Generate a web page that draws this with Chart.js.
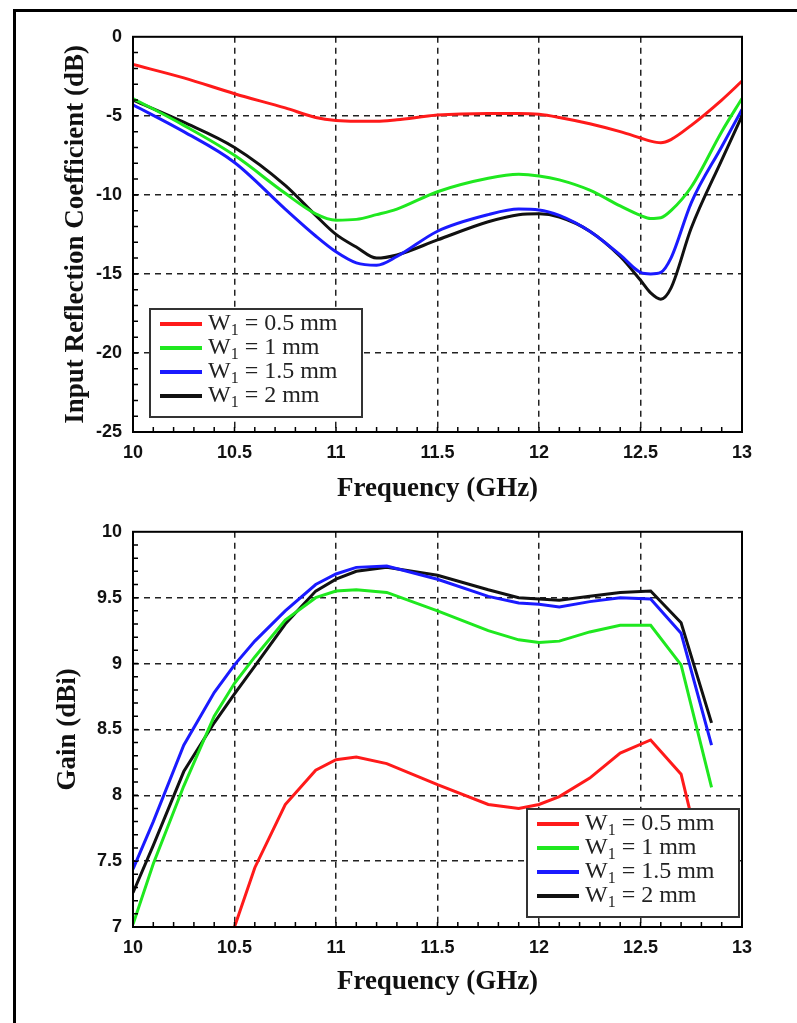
<!DOCTYPE html>
<html>
<head>
<meta charset="utf-8">
<script src="https://cdn.jsdelivr.net/npm/chart.js@4.4.0/dist/chart.umd.min.js"></script>
<style>
  body { margin: 0; background: #fff; width: 797px; height: 1023px; overflow: hidden; position: relative; }
  #frame { position: absolute; left: 13px; top: 9px; width: 900px; height: 1100px; border: 3px solid #000; }
  canvas { position: absolute; left: 0; }
</style>
</head>
<body>
<div id="frame"></div>
<canvas id="s11" width="797" height="495" style="top:15px"></canvas>
<canvas id="gain" width="797" height="510" style="top:510px"></canvas>
<script>
// legend labels (W1 values, mm)
const widths = ["0.5", "1", "1.5", "2"];
const colors = ["#ff1a1a", "#1fe81f", "#1a1aff", "#111111"];

// top chart: input reflection coefficient (dB)
const s11Freq = [10, 10.25, 10.5, 10.75, 10.9, 11, 11.1, 11.2, 11.3, 11.5, 11.75, 11.9, 12, 12.1, 12.25, 12.4, 12.5, 12.55, 12.6, 12.65, 12.75, 12.9, 13];
const s11W05 = [-1.75, -2.6, -3.6, -4.5, -5.1, -5.3, -5.35, -5.35, -5.25, -4.95, -4.85, -4.85, -4.9, -5.1, -5.5, -6.0, -6.4, -6.6, -6.7, -6.5, -5.6, -4.0, -2.8];
const s11W1 = [-3.9, -5.6, -7.5, -9.9, -11.2, -11.6, -11.55, -11.25, -10.9, -9.8, -8.95, -8.7, -8.8, -9.05, -9.7, -10.7, -11.3, -11.5, -11.45, -11.0, -9.5, -6.0, -3.9];
const s11W15 = [-4.3, -6.0, -7.95, -10.9, -12.6, -13.6, -14.3, -14.45, -13.9, -12.3, -11.25, -10.9, -10.95, -11.3, -12.3, -13.8, -14.9, -15.0, -14.9, -14.0, -10.5, -6.95, -4.6];
const s11W2 = [-4.0, -5.4, -7.0, -9.4, -11.3, -12.5, -13.3, -14.0, -13.8, -12.85, -11.7, -11.25, -11.2, -11.4, -12.3, -13.9, -15.4, -16.2, -16.6, -15.9, -12.1, -7.8, -5.0];
const s11Ticks = [0, -5, -10, -15, -20, -25];

// bottom chart: gain (dBi)
const gainFreq = [10, 10.1, 10.25, 10.4, 10.5, 10.6, 10.75, 10.9, 11, 11.1, 11.25, 11.5, 11.75, 11.9, 12, 12.1, 12.25, 12.4, 12.55, 12.7, 12.85];
const gainW05 = [null, null, null, 6.6, 7.0, 7.45, 7.93, 8.19, 8.27, 8.29, 8.24, 8.08, 7.93, 7.9, 7.93, 7.99, 8.13, 8.32, 8.42, 8.16, 7.2];
const gainW1 = [7.02, 7.48, 8.07, 8.6, 8.85, 9.05, 9.33, 9.5, 9.55, 9.56, 9.54, 9.4, 9.25, 9.18, 9.16, 9.17, 9.24, 9.29, 9.29, 8.99, 8.06];
const gainW15 = [7.44, 7.8, 8.38, 8.78, 8.99, 9.17, 9.4, 9.6, 9.68, 9.73, 9.74, 9.64, 9.51, 9.46, 9.45, 9.43, 9.47, 9.5, 9.49, 9.23, 8.38];
const gainW2 = [7.26, 7.62, 8.18, 8.55, 8.77, 8.98, 9.3, 9.55, 9.64, 9.7, 9.73, 9.67, 9.56, 9.5, 9.49, 9.48, 9.51, 9.54, 9.55, 9.31, 8.55];
const gainTicks = [10, 9.5, 9, 8.5, 8, 7.5, 7];

const freqTicks = [10, 10.5, 11, 11.5, 12, 12.5, 13];

const tickFont = { family: "Liberation Sans", weight: "bold", size: 18 };
const titleFont = { family: "Liberation Serif", weight: "bold", size: 27 };

// frame + inward minor ticks
const framePlugin = {
  id: "frame",
  afterDatasetsDraw(chart, args, opts) {
    const { ctx, chartArea: a, scales } = chart;
    ctx.save();
    ctx.strokeStyle = "#000";
    ctx.lineWidth = 1.5;
    ctx.beginPath();
    const xs = scales.x, ys = scales.y;
    const nx = Math.round((xs.max - xs.min) / opts.xMinor);
    for (let i = 1; i < nx; i++) {
      const px = xs.getPixelForValue(xs.min + i * opts.xMinor);
      ctx.moveTo(px, a.bottom);
      ctx.lineTo(px, a.bottom - 5);
    }
    const ny = Math.round((ys.max - ys.min) / opts.yMinor);
    for (let i = 1; i < ny; i++) {
      const py = ys.getPixelForValue(ys.min + i * opts.yMinor);
      ctx.moveTo(a.left, py);
      ctx.lineTo(a.left + 5, py);
    }
    ctx.stroke();
    ctx.lineWidth = 2;
    ctx.strokeRect(a.left, a.top, a.right - a.left, a.bottom - a.top);
    ctx.restore();
  }
};

// boxed legend with subscript
const legendPlugin = {
  id: "boxLegend",
  afterDraw(chart, args, opts) {
    const { ctx, chartArea: a } = chart;
    const x0 = a.left + opts.dx, y0 = a.bottom - opts.dyBottom - opts.h;
    ctx.save();
    ctx.fillStyle = "#fff";
    ctx.fillRect(x0, y0, opts.w, opts.h);
    ctx.strokeStyle = "#333";
    ctx.lineWidth = 2;
    ctx.strokeRect(x0, y0, opts.w, opts.h);
    chart.data.datasets.forEach((ds, i) => {
      const y = y0 + 15 + i * 24;
      ctx.strokeStyle = ds.borderColor;
      ctx.lineWidth = 4;
      ctx.beginPath();
      ctx.moveTo(x0 + 10, y);
      ctx.lineTo(x0 + 52, y);
      ctx.stroke();
      ctx.fillStyle = "#222";
      ctx.textBaseline = "middle";
      let tx = x0 + 58;
      ctx.font = "24px 'Liberation Serif'";
      ctx.fillText("W", tx, y);
      tx += ctx.measureText("W").width;
      ctx.font = "16px 'Liberation Serif'";
      ctx.fillText("1", tx, y + 7);
      tx += ctx.measureText("1").width;
      ctx.font = "24px 'Liberation Serif'";
      ctx.fillText(" = " + widths[i] + " mm", tx, y);
    });
    ctx.restore();
  }
};

function gridColor(lo, hi) {
  return c => (c.tick && (c.tick.value === lo || c.tick.value === hi)) ? "rgba(0,0,0,0)" : "#222";
}

function makeChart(id, freq, series, yMin, yMax, yTicks, yTitle, cfg) {
  new Chart(document.getElementById(id), {
    type: "line",
    data: {
      datasets: series.map((vals, i) => ({
        label: "W1 = " + widths[i] + " mm",
        data: freq.map((f, j) => ({ x: f, y: vals[j] })),
        borderColor: colors[i],
        borderWidth: 3,
        pointRadius: 0,
        cubicInterpolationMode: cfg.smooth ? "monotone" : "default",
        tension: 0,
        spanGaps: false
      }))
    },
    options: {
      responsive: false,
      animation: false,
      layout: { padding: { left: 0, right: 55, top: cfg.top, bottom: 0 } },
      plugins: {
        legend: { display: false },
        tooltip: { enabled: false },
        frame: { xMinor: 0.1, yMinor: cfg.yMinor },
        boxLegend: cfg.legend
      },
      scales: {
        x: {
          type: "linear",
          min: 10, max: 13,
          afterBuildTicks: s => { s.ticks = freqTicks.map(v => ({ value: v })); },
          afterFit: s => { s.height = cfg.xHeight; },
          ticks: { font: tickFont, color: "#111", padding: 10, maxRotation: 0, callback: v => String(v) },
          grid: { color: gridColor(10, 13), lineWidth: 1.5, drawTicks: false },
          border: { display: false, dash: [6, 5] },
          title: { display: true, text: "Frequency (GHz)", font: titleFont, color: "#111", padding: { top: 0, bottom: cfg.xTitlePad } }
        },
        y: {
          min: yMin, max: yMax,
          afterBuildTicks: s => { s.ticks = yTicks.map(v => ({ value: v })); },
          afterFit: s => { s.width = 133; },
          ticks: { font: tickFont, color: "#111", padding: 11, callback: v => String(v) },
          grid: { color: gridColor(yMin, yMax), lineWidth: 1.5, drawTicks: false },
          border: { display: false, dash: [6, 5] },
          title: { display: true, text: yTitle, font: titleFont, color: "#111", padding: { top: cfg.yTitlePad, bottom: 0 } }
        }
      }
    },
    plugins: [framePlugin, legendPlugin]
  });
}

makeChart("s11", s11Freq, [s11W05, s11W1, s11W15, s11W2], -25, 0, s11Ticks,
  "Input Reflection Coefficient (dB)",
  { smooth: true, top: 17, xHeight: 78, xTitlePad: 5, yTitlePad: 60, yMinor: 1,
    legend: { dx: 17, dyBottom: 15, w: 212, h: 108 } });

makeChart("gain", gainFreq, [gainW05, gainW1, gainW15, gainW2], 7, 10, gainTicks,
  "Gain (dBi)",
  { smooth: false, top: 16, xHeight: 93, xTitlePad: 22, yTitlePad: 52, yMinor: 0.1,
    legend: { dx: 394, dyBottom: 10, w: 212, h: 108 } });
</script>
</body>
</html>
